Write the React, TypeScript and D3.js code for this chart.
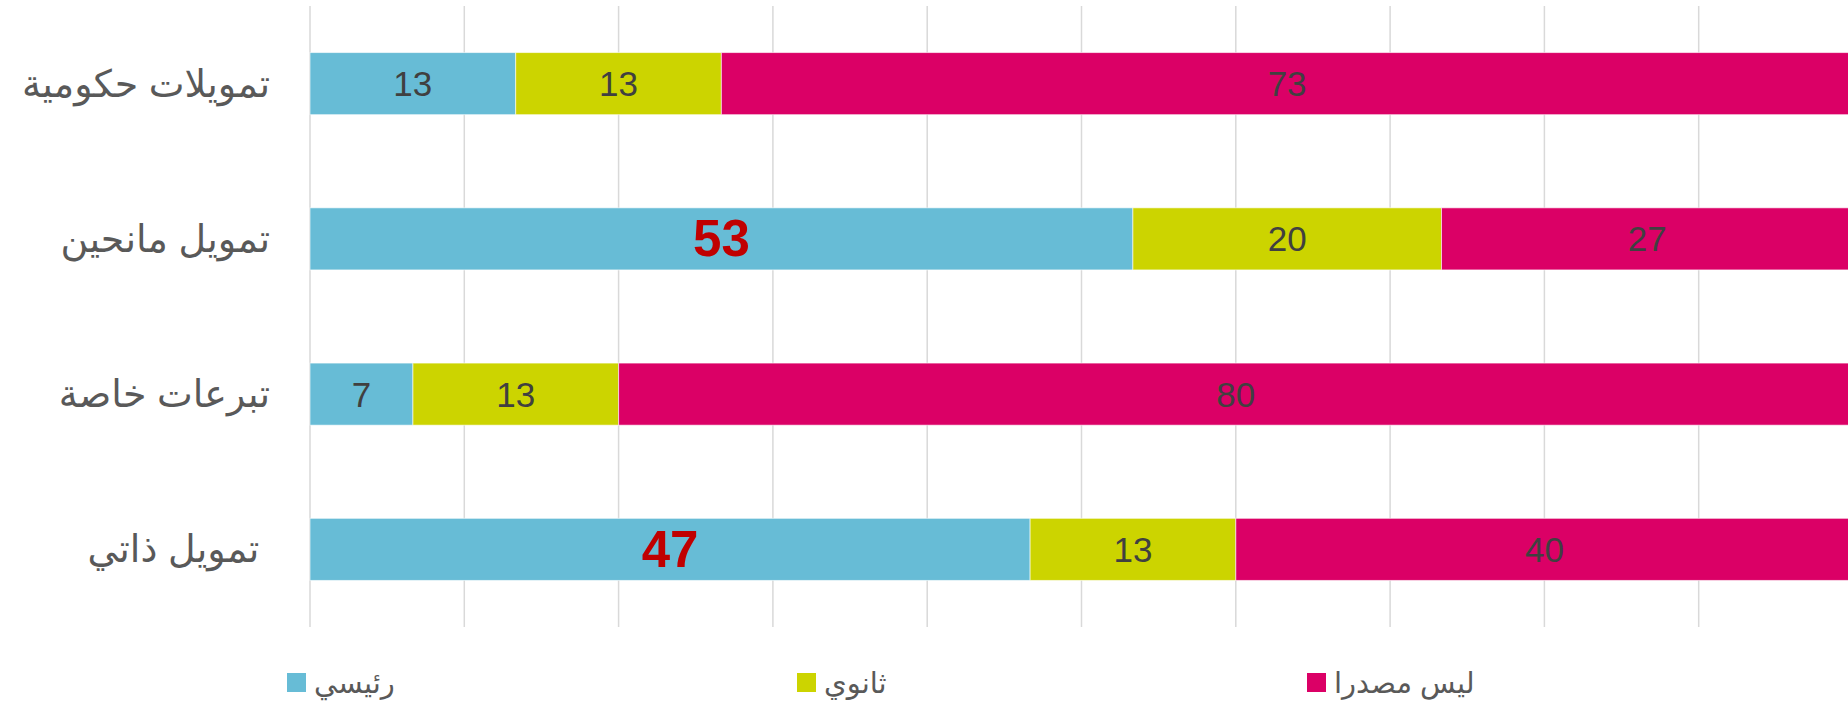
import React from "react";
import * as d3 from "d3";

const categories = ["تمويلات حكومية", "تمويل مانحين", "تبرعات خاصة", "تمويل ذاتي "];
const seriesNames = ["رئيسي", "ثانوي", "ليس مصدرا"];
const mainValues = [13.33, 53.33, 6.67, 46.67];
const secondaryValues = [13.33, 20, 13.33, 13.33];
const notSourceValues = [73.33, 26.67, 80, 40];
const highlighted = [false, true, false, true]; // bold red labels on main series
const colors = ["#67BCD6", "#CCD400", "#DB0066"];
const xTicks = d3.range(0, 101, 10);

const W = 1848;
const H = 705;
const FONT = "'Liberation Sans', Arial, 'DejaVu Sans', sans-serif";

export default function App() {
  const x = d3.scaleLinear().domain([0, 100]).range([310, 1853]);
  const y = d3
    .scaleBand<string>()
    .domain(categories)
    .range([6, 627])
    .paddingInner(0.6)
    .paddingOuter(0.3);

  const series = [mainValues, secondaryValues, notSourceValues];
  const rows = categories.map((c, i) => {
    const r: any = { cat: c };
    seriesNames.forEach((s, j) => (r[s] = series[j][i]));
    return r;
  });
  const stacked = d3.stack<any>().keys(seriesNames)(rows);
  const fmt = d3.format(".0f");

  return (
    <svg
      width={W}
      height={H}
      style={{ position: "absolute", left: 0, top: 0, background: "#fff" }}
      fontFamily={FONT}
    >
      <rect x={0} y={0} width={W} height={H} fill="#fff" />
      {xTicks.map((t) => (
        <line
          key={t}
          x1={x(t)}
          x2={x(t)}
          y1={6}
          y2={627}
          stroke="#D9D9D9"
          strokeWidth={1.5}
        />
      ))}
      {stacked.map((layer, j) =>
        layer.map((d, i) => (
          <rect
            key={`${j}-${i}`}
            x={x(d[0])}
            y={y(categories[i])}
            width={x(d[1]) - x(d[0])}
            height={y.bandwidth()}
            fill={colors[j]}
            stroke="#ffffff"
            strokeOpacity={0.6}
            strokeWidth={1}
          />
        ))
      )}
      {stacked.map((layer, j) =>
        layer.map((d, i) => {
          const hl = j === 0 && highlighted[i];
          return (
            <text
              key={`l-${j}-${i}`}
              x={(x(d[0]) + x(d[1])) / 2}
              y={(y(categories[i]) as number) + y.bandwidth() / 2}
              textAnchor="middle"
              dominantBaseline="central"
              fontSize={hl ? 51 : 35}
              fontWeight={hl ? "bold" : "normal"}
              fill={hl ? "#C00000" : "#404040"}
            >
              {fmt(d[1] - d[0])}
            </text>
          );
        })
      )}
      {categories.map((c) => (
        <text
          key={c}
          x={270}
          y={(y(c) as number) + y.bandwidth() / 2}
          textAnchor="end"
          dominantBaseline="central"
          fontSize={38}
          fill="#595959"
          style={{ whiteSpace: "pre" }}
        >
          {c}
        </text>
      ))}
      {seriesNames.map((s, j) => (
        <g key={s} transform={`translate(${287 + j * 510},673)`}>
          <rect width={19} height={19} fill={colors[j]} />
          <text
            x={27}
            y={9.5}
            dominantBaseline="central"
            fontSize={29}
            fill="#595959"
          >
            {s}
          </text>
        </g>
      ))}
    </svg>
  );
}
